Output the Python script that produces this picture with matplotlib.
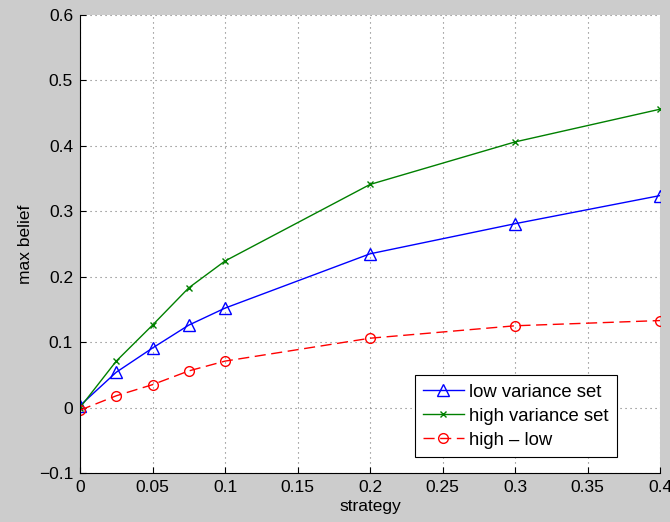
import matplotlib
matplotlib.use("Agg")
import matplotlib.pyplot as plt

strategy = [0, 0.025, 0.05, 0.075, 0.1, 0.2, 0.3, 0.4]
low_var = [0.003, 0.054, 0.091, 0.126, 0.152, 0.235, 0.281, 0.324]
high_var = [0.0, 0.071, 0.126, 0.183, 0.224, 0.341, 0.406, 0.456]
high_minus_low = [-0.004, 0.018, 0.035, 0.056, 0.071, 0.106, 0.125, 0.133]

xticks = [0, 0.05, 0.1, 0.15, 0.2, 0.25, 0.3, 0.35, 0.4]
xticklabels = ["0", "0.05", "0.1", "0.15", "0.2", "0.25", "0.3", "0.35", "0.4"]
yticks = [-0.1, 0, 0.1, 0.2, 0.3, 0.4, 0.5, 0.6]
yticklabels = ["\u22120.1", "0", "0.1", "0.2", "0.3", "0.4", "0.5", "0.6"]

plt.rcParams["font.family"] = ["Liberation Sans", "DejaVu Sans"]

fig = plt.figure(figsize=(6.7, 5.22), dpi=100, facecolor="#cccccc")
ax = fig.add_axes([80 / 670, 49 / 522, 580 / 670, 458 / 522])

ax.plot(strategy, low_var, color="blue", lw=1.0, marker="^", ms=8,
        mfc="none", mec="blue", mew=1.0, label="low variance set")
ax.plot(strategy, high_var, color="green", lw=1.0, marker="x", ms=5,
        mew=1.0, label="high variance set")
ax.plot(strategy, high_minus_low, color="red", lw=1.0, ls=(0, (8, 4)),
        marker="o", ms=7, mfc="none", mec="red", mew=1.0, label="high \u2013 low")

ax.set_xlim(0, 0.4)
ax.set_ylim(-0.1, 0.6)
ax.set_xticks(xticks)
ax.set_xticklabels(xticklabels)
ax.set_yticks(yticks)
ax.set_yticklabels(yticklabels)
ax.tick_params(direction="in", labelsize=12.5, length=4, width=0.8, pad=5)
ax.grid(True, ls=(0, (1, 3.5)), color="#777777", lw=0.8)

for side in ["top", "right"]:
    ax.spines[side].set_visible(False)
for side in ["left", "bottom"]:
    ax.spines[side].set_linewidth(0.8)

ax.set_xlabel("strategy", fontsize=12.5, labelpad=3)
ax.set_ylabel("max belief", fontsize=12.5, labelpad=4)

leg = ax.legend(loc="lower right", bbox_to_anchor=(0.926, 0.035), borderaxespad=0,
                fontsize=13.3, frameon=True, fancybox=False, framealpha=1,
                edgecolor="black", handlelength=2.2, borderpad=0.45,
                labelspacing=0.38, handletextpad=0.3)
leg.get_frame().set_linewidth(0.8)

fig.savefig("out.png", dpi=100, facecolor=fig.get_facecolor())
